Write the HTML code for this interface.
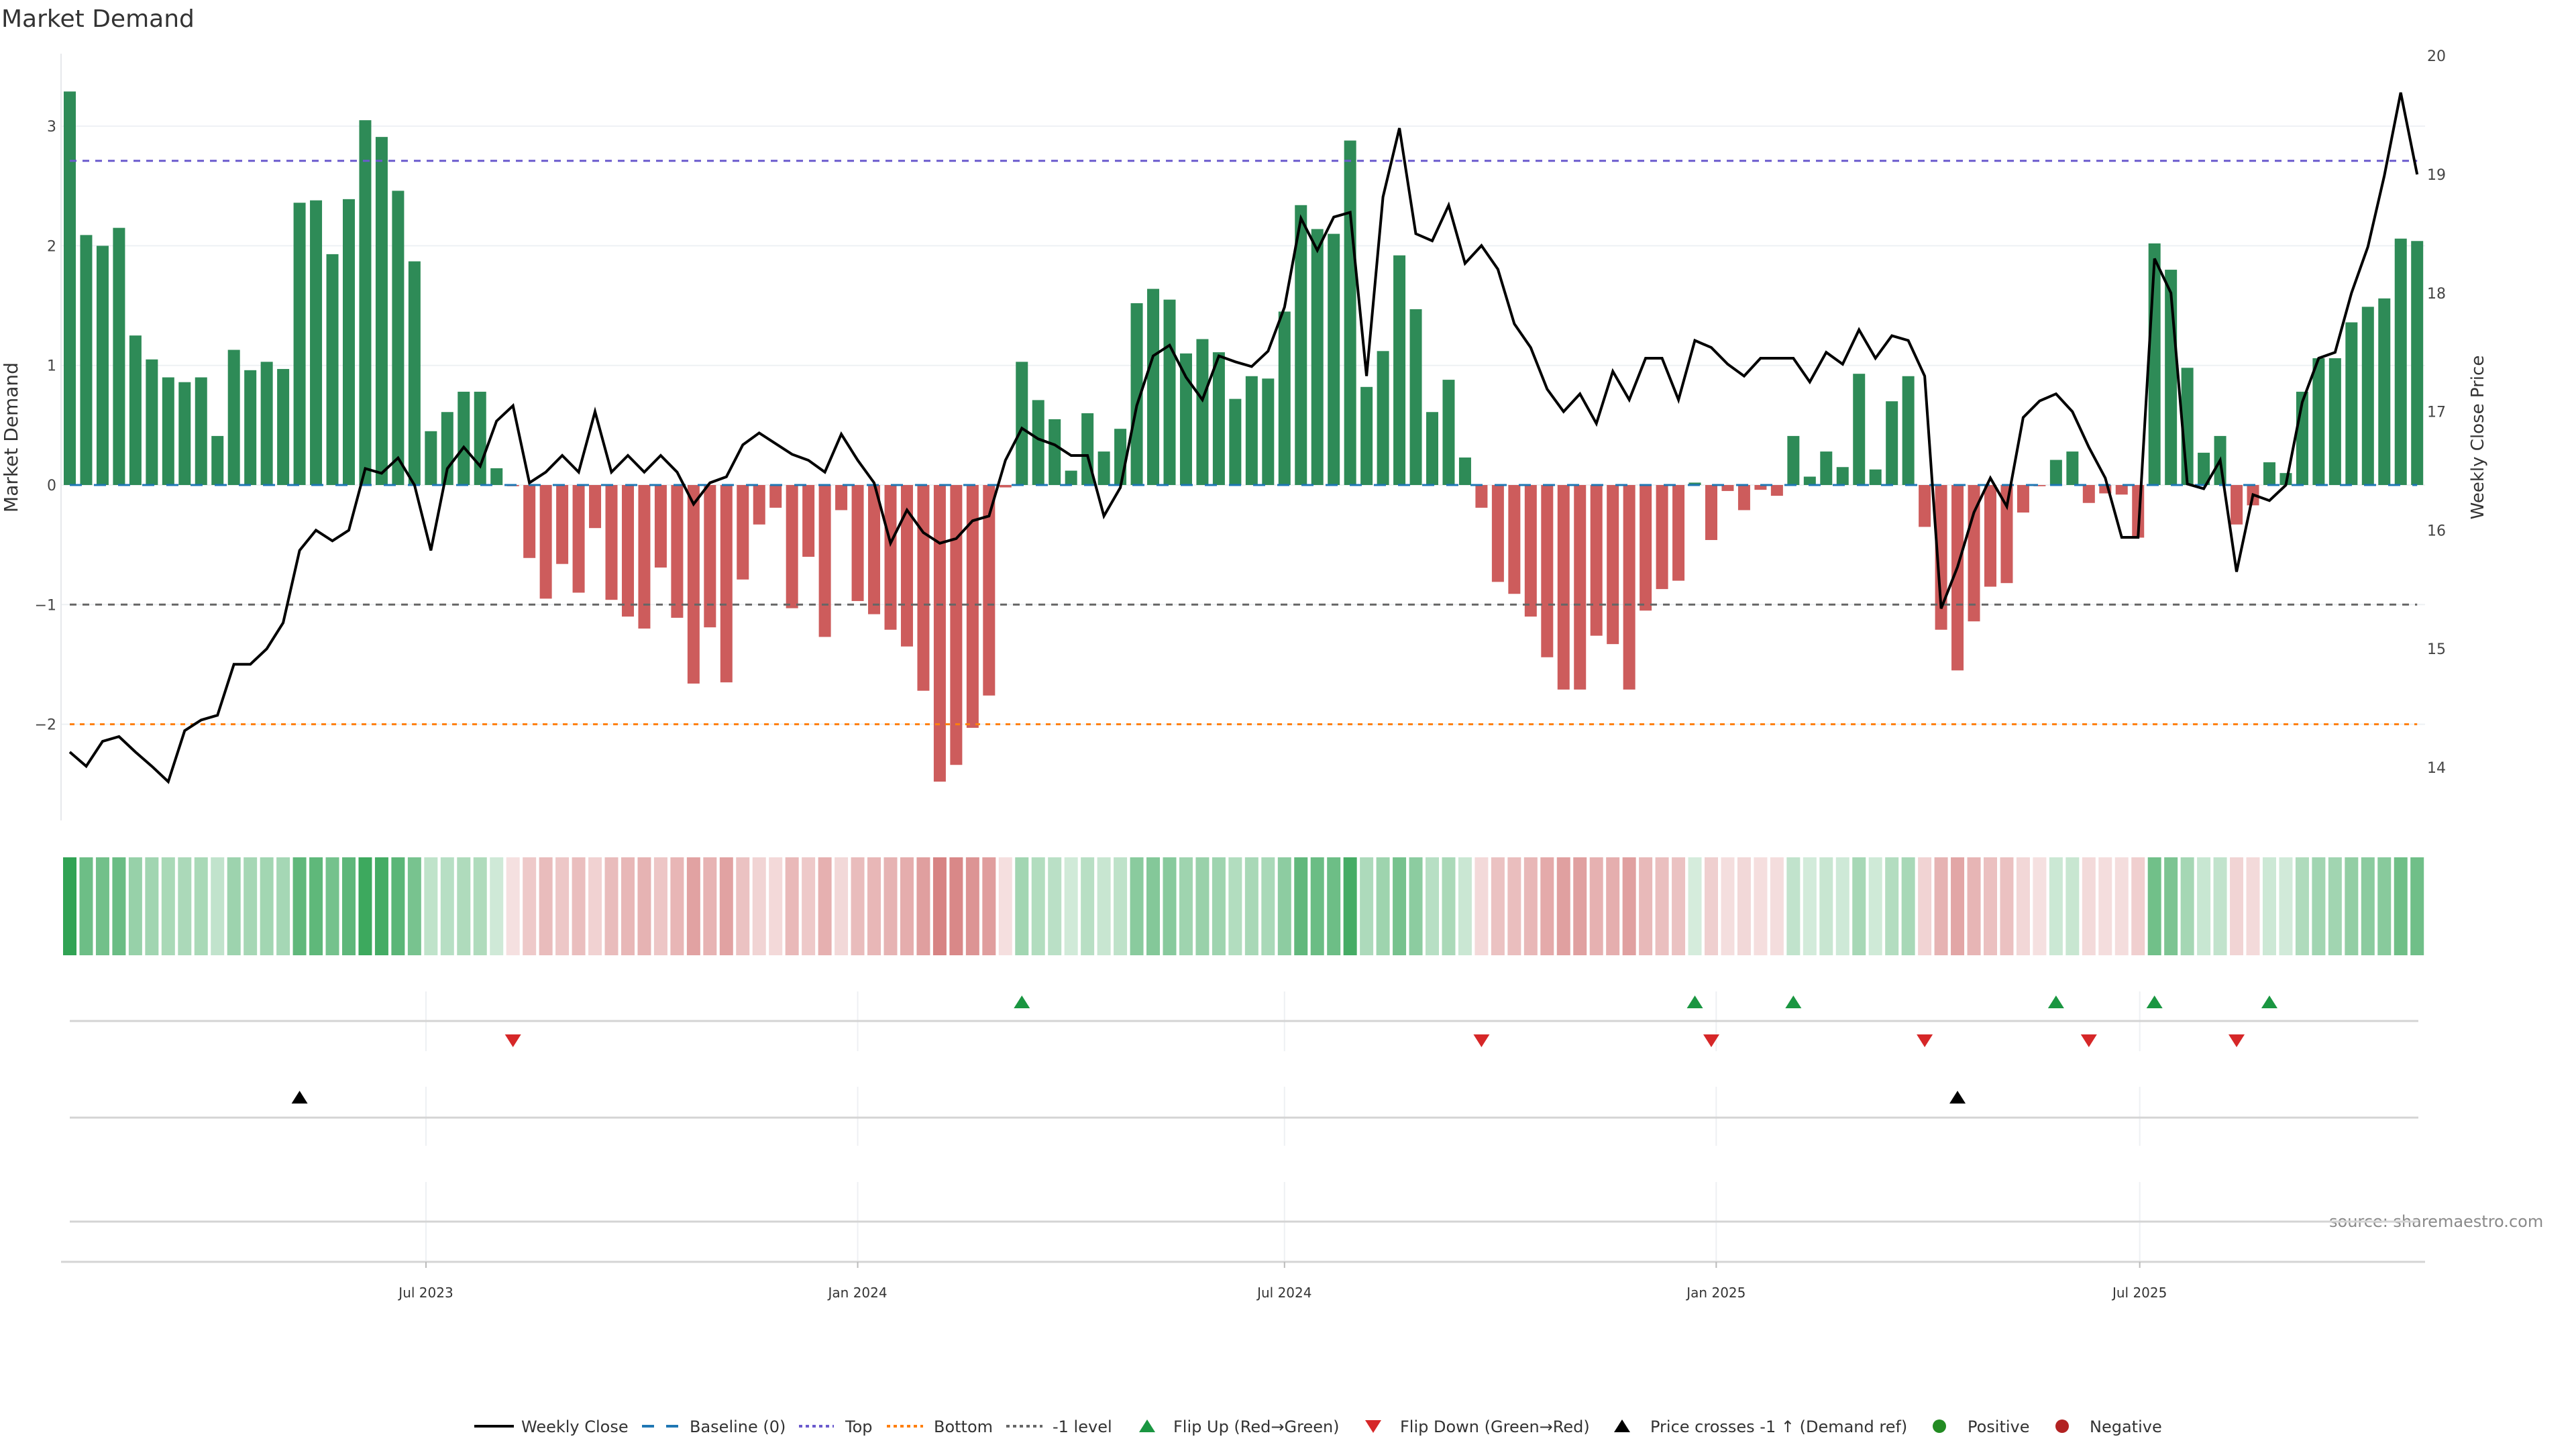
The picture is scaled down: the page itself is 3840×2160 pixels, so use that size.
<!DOCTYPE html>
<html><head><meta charset="utf-8"><style>
html,body{margin:0;padding:0;background:#fff;}
svg{display:block;font-family:"DejaVu Sans","Liberation Sans",sans-serif;}
</style></head><body>
<svg id="chart" xmlns="http://www.w3.org/2000/svg" width="3840" height="2160" viewBox="0 0 3840 2160">
<rect x="0" y="0" width="3840" height="2160" fill="#fff"/>
<text x="2" y="40" font-size="36" fill="#333">Market Demand</text>
<text transform="translate(26,652) rotate(-90)" text-anchor="middle" font-size="28" fill="#333">Market Demand</text>
<text transform="translate(3702,652) rotate(-90)" text-anchor="middle" font-size="26" fill="#333">Weekly Close Price</text>
<text x="3472" y="1829" font-size="24" fill="#8a8a8a">source: sharemaestro.com</text>
<g id="grid"></g>
<g id="bars"></g>
<g id="refs"></g>
<g id="price"></g>
<g id="heat"></g>
<g id="panels"></g>
<g id="axes"></g>
<g id="legend"></g>
</svg>
<script>
const demand = [3.29,2.09,2.00,2.15,1.25,1.05,0.90,0.86,0.90,0.41,1.13,0.96,1.03,0.97,2.36,2.38,1.93,2.39,3.05,2.91,2.46,1.87,0.45,0.61,0.78,0.78,0.14,-0.01,-0.61,-0.95,-0.66,-0.90,-0.36,-0.96,-1.10,-1.20,-0.69,-1.11,-1.66,-1.19,-1.65,-0.79,-0.33,-0.19,-1.03,-0.60,-1.27,-0.21,-0.97,-1.08,-1.21,-1.35,-1.72,-2.48,-2.34,-2.03,-1.76,-0.02,1.03,0.71,0.55,0.12,0.60,0.28,0.47,1.52,1.64,1.55,1.10,1.22,1.11,0.72,0.91,0.89,1.45,2.34,2.14,2.10,2.88,0.82,1.12,1.92,1.47,0.61,0.88,0.23,-0.19,-0.81,-0.91,-1.10,-1.44,-1.71,-1.71,-1.26,-1.33,-1.71,-1.05,-0.87,-0.80,0.02,-0.46,-0.05,-0.21,-0.04,-0.09,0.41,0.07,0.28,0.15,0.93,0.13,0.70,0.91,-0.35,-1.21,-1.55,-1.14,-0.85,-0.82,-0.23,-0.01,0.21,0.28,-0.15,-0.07,-0.08,-0.44,2.02,1.80,0.98,0.27,0.41,-0.33,-0.17,0.19,0.10,0.78,1.06,1.06,1.36,1.49,1.56,2.06,2.04];
const price = [14.13,14.01,14.22,14.26,14.13,14.01,13.88,14.31,14.40,14.44,14.87,14.87,15.00,15.22,15.83,16.00,15.91,16.00,16.52,16.48,16.61,16.38,15.83,16.52,16.70,16.54,16.92,17.05,16.40,16.49,16.63,16.49,17.00,16.49,16.63,16.49,16.63,16.49,16.22,16.40,16.45,16.72,16.82,16.73,16.64,16.59,16.49,16.81,16.59,16.40,15.89,16.17,15.98,15.89,15.93,16.08,16.12,16.59,16.86,16.77,16.72,16.63,16.63,16.12,16.36,17.05,17.47,17.56,17.29,17.10,17.47,17.42,17.38,17.51,17.88,18.63,18.36,18.64,18.68,17.30,18.81,19.39,18.50,18.44,18.74,18.25,18.40,18.20,17.74,17.54,17.19,17.00,17.15,16.90,17.34,17.10,17.45,17.45,17.10,17.60,17.54,17.40,17.30,17.45,17.45,17.45,17.25,17.50,17.40,17.69,17.45,17.64,17.60,17.30,15.34,15.69,16.15,16.44,16.20,16.95,17.09,17.15,17.00,16.70,16.44,15.94,15.94,18.29,18.00,16.39,16.35,16.59,15.65,16.30,16.25,16.38,17.08,17.45,17.50,18.00,18.39,18.99,19.69,19.00];
const levelTop = [2.71];
const levelBottom = [-2.0];
const levelNeg = [-1];
const demandTicks = [3,2,1,0,-1,-2];
const priceTicks = [14,15,16,17,18,19,20];
const dateTickLabels = ['Jul 2023','Jan 2024','Jul 2024','Jan 2025','Jul 2025'];
const dateTickIndex = [21.7,48.0,74.0,100.3,126.1];

const NS='http://www.w3.org/2000/svg';
function mk(parent,tag,attrs){const e=document.createElementNS(NS,tag);for(const k in attrs)e.setAttribute(k,attrs[k]);parent.appendChild(e);return e;}
const xS=i=>104+24.47*i;
const yD=v=>723-v*178.3;
const yP=p=>260+(19-p)*176.8;
const X0=91,X1=3615,YT=80,YB=1223;
const gGrid=document.getElementById('grid'),gBars=document.getElementById('bars'),gRefs=document.getElementById('refs'),
gPrice=document.getElementById('price'),gHeat=document.getElementById('heat'),gPan=document.getElementById('panels'),
gAx=document.getElementById('axes'),gLeg=document.getElementById('legend');

// gridlines + ticks
demandTicks.forEach(v=>{
  const l=mk(gGrid,'line',{x1:X0,x2:X1,y1:yD(v),y2:yD(v),stroke:'#eef1f4','stroke-width':2});
  
  
  const t=mk(gAx,'text',{x:84,y:yD(v)+8,'text-anchor':'end','font-size':22,fill:'#444'});
  t.textContent=(v<0?'\u2212'+Math.abs(v):String(v));
  
  
});
priceTicks.forEach(p=>{
  const t=mk(gAx,'text',{x:3618,y:yP(p)+8,'font-size':22,fill:'#444'});
  t.textContent=String(p);
  
  
});
const ax=mk(gAx,'line',{x1:X0,x2:X0,y1:YT,y2:YB,stroke:'#e6e8eb','stroke-width':2});



// bars
demand.forEach((v,i)=>{
  const y=Math.min(yD(v),yD(0)),h=Math.abs(yD(v)-yD(0));
  const r=mk(gBars,'rect',{x:xS(i)-9,y:y,width:18,height:Math.max(h,1.5),fill:v>=0?'#2e8b57':'#cd5c5c'});
  
  
});
// reference lines
const xa=xS(0),xb=xS(demand.length-1);
let r1=mk(gRefs,'line',{x1:xa,x2:xb,y1:yD(0),y2:yD(0),stroke:'#1f77b4','stroke-width':3,'stroke-dasharray':'18 18'});


let r2=mk(gRefs,'line',{x1:xa,x2:xb,y1:yD(levelTop[0]),y2:yD(levelTop[0]),stroke:'#6a5acd','stroke-width':3,'stroke-dasharray':'10 9'});


let r3=mk(gRefs,'line',{x1:xa,x2:xb,y1:yD(levelBottom[0]),y2:yD(levelBottom[0]),stroke:'#ff7f0e','stroke-width':3,'stroke-dasharray':'7 8'});


let r4=mk(gRefs,'line',{x1:xa,x2:xb,y1:yD(levelNeg[0]),y2:yD(levelNeg[0]),stroke:'#666','stroke-width':3,'stroke-dasharray':'10 9'});



// price line
const pl=mk(gPrice,'polyline',{points:price.map((p,i)=>xS(i).toFixed(1)+','+yP(p).toFixed(1)).join(' '),fill:'none',stroke:'#000','stroke-width':4,'stroke-linejoin':'miter'});



// heatmap
function mix(base,a){return 'rgb('+base.map(c=>Math.round(255-(255-c)*a)).join(',')+')';}
demand.forEach((v,i)=>{
  const a=Math.min(1,0.2+0.8*Math.abs(v)/3.3);
  const col=v>=0?mix([49,163,84],a):mix([205,100,100],a);
  const c=mk(gHeat,'rect',{x:xS(i)-10,y:1278,width:20,height:146,fill:col});
  
  
});

// panels
[[1478,1567],[1620,1708],[1762,1879]].forEach(([a,b])=>{
  dateTickIndex.forEach(t=>{
    const g=mk(gPan,'line',{x1:xS(t),x2:xS(t),y1:a,y2:b,stroke:'#eef0f3','stroke-width':2});
    
    
  });
});
[1522,1666,1821].forEach(y=>{
  const l=mk(gPan,'line',{x1:104,x2:3605,y1:y,y2:y,stroke:'#d4d4d4','stroke-width':3});
  
  
});
const xl=mk(gAx,'line',{x1:X0,x2:X1,y1:1881,y2:1881,stroke:'#d4d4d4','stroke-width':3});


dateTickIndex.forEach((t,k)=>{
  const tk=mk(gAx,'line',{x1:xS(t),x2:xS(t),y1:1881,y2:1890,stroke:'#bbb','stroke-width':2});
  
  
  const tl=mk(gAx,'text',{x:xS(t),y:1934,'text-anchor':'middle','font-size':20,fill:'#333'});
  tl.textContent=dateTickLabels[k];
  
  
});
function triUp(g,cx,cy,col){return mk(g,'polygon',{points:`${cx-12},${cy+9} ${cx+12},${cy+9} ${cx},${cy-10}`,fill:col});}
function triDown(g,cx,cy,col){return mk(g,'polygon',{points:`${cx-12},${cy-9} ${cx+12},${cy-9} ${cx},${cy+10}`,fill:col});}
const negLevelPrice=19-(yD(levelNeg[0])-260)/176.8;
for(let i=1;i<demand.length;i++){
  if(demand[i]>0&&demand[i-1]<=0){const m=triUp(gPan,xS(i),1494,'#1a9641');}
  if(demand[i]<0&&demand[i-1]>=0){const m=triDown(gPan,xS(i),1551,'#d62728');}
  if(price[i-1]<negLevelPrice&&price[i]>=negLevelPrice){const m=triUp(gPan,xS(i),1636,'#000');}
}

// legend
const LY=2126;
function legText(x,s){const t=mk(gLeg,'text',{x:x,y:LY+9,'font-size':24,fill:'#333'});t.textContent=s;return t;}
let s;
s=mk(gLeg,'line',{x1:707,x2:766,y1:LY,y2:LY,stroke:'#000','stroke-width':4});
legText(777,'Weekly Close');
s=mk(gLeg,'line',{x1:957,x2:1011,y1:LY,y2:LY,stroke:'#1f77b4','stroke-width':4,'stroke-dasharray':'18 18'});
legText(1028,'Baseline (0)');
s=mk(gLeg,'line',{x1:1191,x2:1243,y1:LY,y2:LY,stroke:'#6a5acd','stroke-width':4,'stroke-dasharray':'5 5'});
legText(1260,'Top');
s=mk(gLeg,'line',{x1:1322,x2:1376,y1:LY,y2:LY,stroke:'#ff7f0e','stroke-width':4,'stroke-dasharray':'5 5'});
legText(1392,'Bottom');
s=mk(gLeg,'line',{x1:1500,x2:1554,y1:LY,y2:LY,stroke:'#666','stroke-width':4,'stroke-dasharray':'5 5'});
legText(1569,'-1 level');
s=triUp(gLeg,1710,LY,'#1a9641');
legText(1749,'Flip Up (Red\u2192Green)');
s=triDown(gLeg,2047,LY,'#d62728');
legText(2087,'Flip Down (Green\u2192Red)');
s=triUp(gLeg,2418,LY,'#000');
legText(2460,'Price crosses -1 \u2191 (Demand ref)');
s=mk(gLeg,'circle',{cx:2891,cy:LY,r:10,fill:'#228b22'});
legText(2933,'Positive');
s=mk(gLeg,'circle',{cx:3074,cy:LY,r:10,fill:'#b22222'});
legText(3115,'Negative');
</script>
</body></html>
